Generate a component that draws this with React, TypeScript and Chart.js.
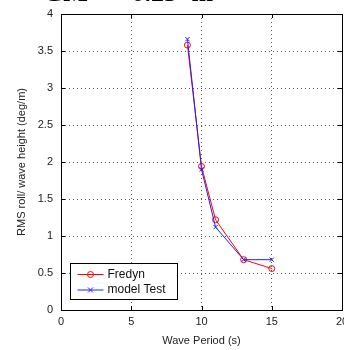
import React, { useEffect, useRef } from "react";
import { Chart, registerables } from "chart.js";

Chart.register(...registerables);

const periods = [9, 10, 11, 13, 15];
const fredyn = [3.58, 1.94, 1.22, 0.68, 0.56];
const modelTest = [3.66, 1.9, 1.12, 0.68, 0.68];
const seriesLabels = ["Fredyn", "model Test"];
const xTicks = [0, 5, 10, 15, 20];
const yTicks = [0, 0.5, 1, 1.5, 2, 2.5, 3, 3.5, 4];
const titleText = "GM = 0.25 m";
const xTitle = "Wave Period (s)";
const yTitle = "RMS roll/ wave height (deg/m)";

const RED = "#ff0000";
const BLUE = "#2020ff";
const FONT = "Liberation Sans";

const boxPlugin = {
  id: "matlabBox",
  afterDatasetsDraw(chart: any) {
    const { ctx, chartArea } = chart;
    const { left, right, top, bottom } = chartArea;
    ctx.save();
    ctx.strokeStyle = "#000";
    ctx.lineWidth = 1;
    const xs = chart.scales.x;
    const ys = chart.scales.y;
    const tl = 4;
    ctx.beginPath();
    xTicks.forEach((v) => {
      const px = Math.round(xs.getPixelForValue(v)) + 0.5;
      ctx.moveTo(px, bottom);
      ctx.lineTo(px, bottom - tl);
      ctx.moveTo(px, top);
      ctx.lineTo(px, top + tl);
    });
    yTicks.forEach((v) => {
      const py = Math.round(ys.getPixelForValue(v)) + 0.5;
      ctx.moveTo(left, py);
      ctx.lineTo(left + tl, py);
      ctx.moveTo(right, py);
      ctx.lineTo(right - tl, py);
    });
    ctx.stroke();
    ctx.strokeStyle = "#000";
    ctx.strokeRect(Math.round(left) + 0.5, Math.round(top) + 0.5, Math.round(right - left), Math.round(bottom - top));

    // legend
    const lx = Math.round(left) + 9.5;
    const lw = 107;
    const lh = 36;
    const ly = Math.round(bottom) - 10.5 - lh;
    ctx.fillStyle = "#fff";
    ctx.fillRect(lx, ly, lw, lh);
    ctx.strokeStyle = "#000";
    ctx.strokeRect(lx, ly, lw, lh);
    const ds = chart.data.datasets;
    ds.forEach((d: any, i: number) => {
      const cy = ly + 11 + i * 15.5;
      ctx.strokeStyle = d.borderColor;
      ctx.lineWidth = 1;
      ctx.beginPath();
      ctx.moveTo(lx + 7, cy);
      ctx.lineTo(lx + 33, cy);
      ctx.stroke();
      const mx = lx + 20;
      ctx.beginPath();
      if (d.pointStyle === "circle") {
        ctx.arc(mx, cy, 3, 0, Math.PI * 2);
      } else {
        ctx.moveTo(mx - 2.5, cy - 2.5);
        ctx.lineTo(mx + 2.5, cy + 2.5);
        ctx.moveTo(mx - 2.5, cy + 2.5);
        ctx.lineTo(mx + 2.5, cy - 2.5);
      }
      ctx.stroke();
      ctx.fillStyle = "#111";
      ctx.font = `12px ${FONT}`;
      ctx.textBaseline = "middle";
      ctx.textAlign = "left";
      ctx.fillText(d.label, lx + 37, cy);
    });
    ctx.restore();
  },
};

export default function App() {
  const ref = useRef<HTMLCanvasElement | null>(null);

  useEffect(() => {
    if (!ref.current) return;
    const edge = (ctx: any, max: number) =>
      ctx.tick && (ctx.tick.value === 0 || ctx.tick.value === max) ? "rgba(0,0,0,0)" : "#555";
    const chart = new Chart(ref.current, {
      type: "line",
      data: {
        datasets: [
          {
            label: seriesLabels[0],
            data: periods.map((x, i) => ({ x, y: fredyn[i] })),
            borderColor: RED,
            backgroundColor: "rgba(0,0,0,0)",
            borderWidth: 1,
            pointStyle: "circle",
            pointRadius: 3,
            pointBorderWidth: 1,
            pointBorderColor: RED,
            pointBackgroundColor: "rgba(0,0,0,0)",
            tension: 0,
            order: 2,
          },
          {
            label: seriesLabels[1],
            data: periods.map((x, i) => ({ x, y: modelTest[i] })),
            borderColor: BLUE,
            backgroundColor: "rgba(0,0,0,0)",
            borderWidth: 1,
            pointStyle: "crossRot",
            pointRadius: 3,
            pointBorderWidth: 1,
            pointBorderColor: BLUE,
            tension: 0,
            order: 1,
          },
        ],
      },
      options: {
        responsive: false,
        animation: false,
        layout: { padding: { top: 14, right: 1, left: 0, bottom: 0 } },
        plugins: {
          legend: { display: false },
          tooltip: { enabled: false },
          title: { display: false },
        },
        scales: {
          x: {
            type: "linear",
            min: 0,
            max: 20,
            afterFit: (s: any) => {
              s.height = 40;
              s.paddingLeft = 0;
              s.paddingRight = 0;
            },
            afterBuildTicks: (s: any) => {
              s.ticks = xTicks.map((v) => ({ value: v }));
            },
            ticks: {
              padding: 5,
              color: "#222",
              font: { family: FONT, size: 11 },
              maxRotation: 0,
              callback: (v: any) => String(v),
            },
            grid: { color: (c: any) => edge(c, 20), drawTicks: false, lineWidth: 1 },
            border: { display: false, dash: [1, 3] },
            title: {
              display: true,
              text: xTitle,
              color: "#222",
              font: { family: FONT, size: 11 },
              padding: { top: 0, bottom: 2 },
            },
          },
          y: {
            type: "linear",
            min: 0,
            max: 4,
            afterFit: (s: any) => {
              s.width = 61;
              s.paddingTop = 0;
              s.paddingBottom = 0;
            },
            afterBuildTicks: (s: any) => {
              s.ticks = yTicks.map((v) => ({ value: v }));
            },
            ticks: {
              padding: 8,
              color: "#222",
              font: { family: FONT, size: 11 },
              callback: (v: any) => String(v),
            },
            grid: { color: (c: any) => edge(c, 4), drawTicks: false, lineWidth: 1 },
            border: { display: false, dash: [1, 3] },
            title: {
              display: true,
              text: yTitle,
              color: "#222",
              font: { family: FONT, size: 11 },
              padding: { top: 15, bottom: 0 },
            },
          },
        },
      },
      plugins: [boxPlugin],
    } as any);
    return () => chart.destroy();
  }, []);

  return (
    <div style={{ position: "absolute", left: 0, top: 0, width: 344, height: 350, overflow: "hidden", background: "#fff" }}>
      <canvas ref={ref} width={347} height={350} style={{ display: "block" }} />
      <div
        style={{
          position: "absolute",
          left: 43,
          top: -20,
          font: "bold 26px 'Liberation Serif'",
          lineHeight: "26px",
          whiteSpace: "pre",
          wordSpacing: "8px",
          color: "#000",
        }}
      >
        {titleText}
      </div>
    </div>
  );
}
